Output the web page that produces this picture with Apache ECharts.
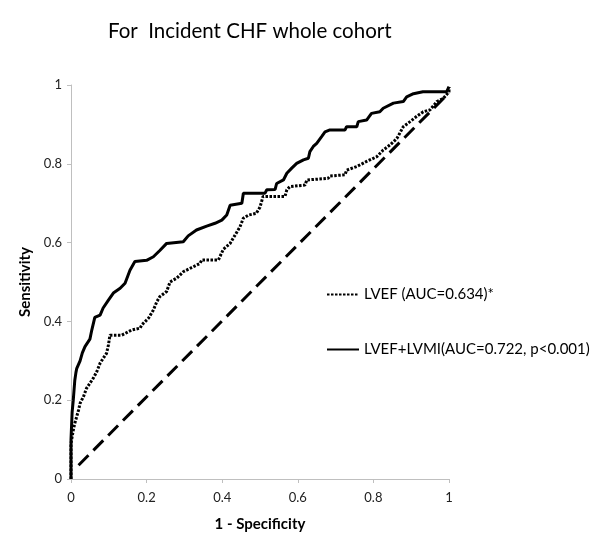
<!DOCTYPE html>
<html>
<head>
<meta charset="utf-8">
<script src="https://cdn.jsdelivr.net/npm/echarts@6/dist/echarts.min.js"></script>
<style>html,body{margin:0;padding:0;background:#fff}#c{width:601px;height:546px}</style>
</head>
<body>
<div id="c"></div>
<script>
// ---- data ----
var titleText = 'For  Incident CHF whole cohort';
var xAxisName = '1 - Specificity';
var yAxisName = 'Sensitivity';
var seriesNames = ['LVEF (AUC=0.634)*', 'LVEF+LVMI(AUC=0.722, p<0.001)', 'Reference'];

// LVEF+LVMI (solid) : 1-specificity, sensitivity
var combX = [0,0,0.003,0.006,0.01,0.013,0.015,0.024,0.03,0.037,0.05,0.055,0.063,0.077,0.085,0.099,0.112,0.13,0.143,0.156,0.169,0.2,0.218,0.235,0.253,0.297,0.31,0.332,0.359,0.381,0.399,0.412,0.421,0.452,0.456,0.513,0.518,0.54,0.544,0.562,0.571,0.584,0.597,0.615,0.628,0.632,0.641,0.65,0.663,0.672,0.685,0.725,0.729,0.756,0.76,0.782,0.795,0.817,0.826,0.853,0.879,0.888,0.906,0.931,0.994,1.0];
var combY = [0,0.1,0.17,0.2,0.25,0.27,0.28,0.3,0.32,0.336,0.355,0.378,0.41,0.416,0.434,0.454,0.472,0.484,0.497,0.53,0.552,0.555,0.564,0.58,0.598,0.602,0.617,0.632,0.642,0.649,0.657,0.67,0.695,0.7,0.725,0.725,0.734,0.735,0.75,0.759,0.776,0.789,0.801,0.81,0.814,0.831,0.844,0.852,0.869,0.881,0.886,0.886,0.894,0.894,0.907,0.911,0.928,0.932,0.941,0.954,0.958,0.97,0.978,0.983,0.983,0.996];

// LVEF (dotted)
var lvefX = [0,0,0.006,0.01,0.02,0.024,0.033,0.041,0.05,0.059,0.068,0.077,0.085,0.094,0.099,0.103,0.134,0.16,0.183,0.187,0.205,0.218,0.227,0.235,0.253,0.262,0.28,0.297,0.341,0.346,0.39,0.403,0.421,0.434,0.447,0.456,0.47,0.49,0.5,0.508,0.566,0.571,0.579,0.619,0.624,0.68,0.685,0.725,0.729,0.756,0.782,0.809,0.826,0.844,0.862,0.879,0.897,0.914,0.932,0.95,0.968,0.985,1.0,1.0];
var lvefY = [0,0.09,0.124,0.141,0.175,0.192,0.209,0.23,0.243,0.256,0.272,0.294,0.306,0.319,0.34,0.365,0.365,0.378,0.383,0.391,0.408,0.429,0.45,0.463,0.476,0.5,0.51,0.526,0.547,0.556,0.556,0.583,0.598,0.619,0.64,0.662,0.67,0.674,0.69,0.717,0.717,0.734,0.742,0.746,0.759,0.763,0.769,0.772,0.784,0.793,0.806,0.818,0.835,0.848,0.864,0.894,0.907,0.92,0.932,0.937,0.958,0.966,0.983,0.995];

// chance diagonal
var diagX = [0.02, 1.0];
var diagY = [0.035, 0.98];

function pairs(xs, ys) { return xs.map(function (x, i) { return [x, ys[i]]; }); }

var FONT = 'Lato, "Open Sans", sans-serif';
var chart = echarts.init(document.getElementById('c'), null, { renderer: 'canvas' });
chart.setOption({
  animation: false,
  backgroundColor: '#ffffff',
  title: {
    text: titleText,
    left: 103, top: 16,
    textStyle: { fontFamily: FONT, fontSize: 20.5, fontWeight: 'normal', color: '#000' }
  },
  grid: { left: 71, top: 85, width: 378, height: 394, containLabel: false },
  legend: {
    data: [seriesNames[0], seriesNames[1]],
    orient: 'vertical',
    left: 321, top: 282,
    itemGap: 40,
    itemWidth: 32, itemHeight: 14,
    itemStyle: { opacity: 0 },
    textStyle: { fontFamily: FONT, fontSize: 15, color: '#000' }
  },
  xAxis: {
    type: 'value', min: 0, max: 1, interval: 0.2,
    name: xAxisName, nameLocation: 'middle', nameGap: 38,
    nameTextStyle: { fontFamily: FONT, fontSize: 15, fontWeight: 'bold', color: '#000' },
    axisLine: { lineStyle: { color: '#bfbfbf', width: 1 } },
    axisTick: { show: true, length: 4, lineStyle: { color: '#bfbfbf' } },
    axisLabel: { fontFamily: FONT, fontSize: 13, color: '#222', margin: 12,
      formatter: function (v) { return String(+v.toFixed(1)); } },
    splitLine: { show: false }
  },
  yAxis: {
    type: 'value', min: 0, max: 1, interval: 0.2,
    name: yAxisName, nameLocation: 'middle', nameGap: 28, nameRotate: 90,
    nameTextStyle: { fontFamily: FONT, fontSize: 15, fontWeight: 'bold', color: '#000' },
    axisLine: { show: true, lineStyle: { color: '#bfbfbf', width: 1 } },
    axisTick: { show: true, length: 4, lineStyle: { color: '#bfbfbf' } },
    axisLabel: { fontFamily: FONT, fontSize: 13, color: '#222', margin: 9,
      formatter: function (v) { return String(+v.toFixed(1)); } },
    splitLine: { show: false }
  },
  series: [
    {
      name: seriesNames[2], type: 'line', data: pairs(diagX, diagY),
      showSymbol: false, symbol: 'none', z: 1,
      lineStyle: { color: '#000', width: 3, type: [14, 7], cap: 'butt' }
    },
    {
      name: seriesNames[0], type: 'line', data: pairs(lvefX, lvefY),
      showSymbol: false, symbol: 'none', z: 2,
      itemStyle: { color: '#000' },
      lineStyle: { color: '#000', width: 3, type: [2.5, 1.5], cap: 'butt' }
    },
    {
      name: seriesNames[1], type: 'line', data: pairs(combX, combY),
      showSymbol: false, symbol: 'none', z: 3,
      itemStyle: { color: '#000' },
      lineStyle: { color: '#000', width: 3, type: 'solid' }
    }
  ]
});
</script>
</body>
</html>
